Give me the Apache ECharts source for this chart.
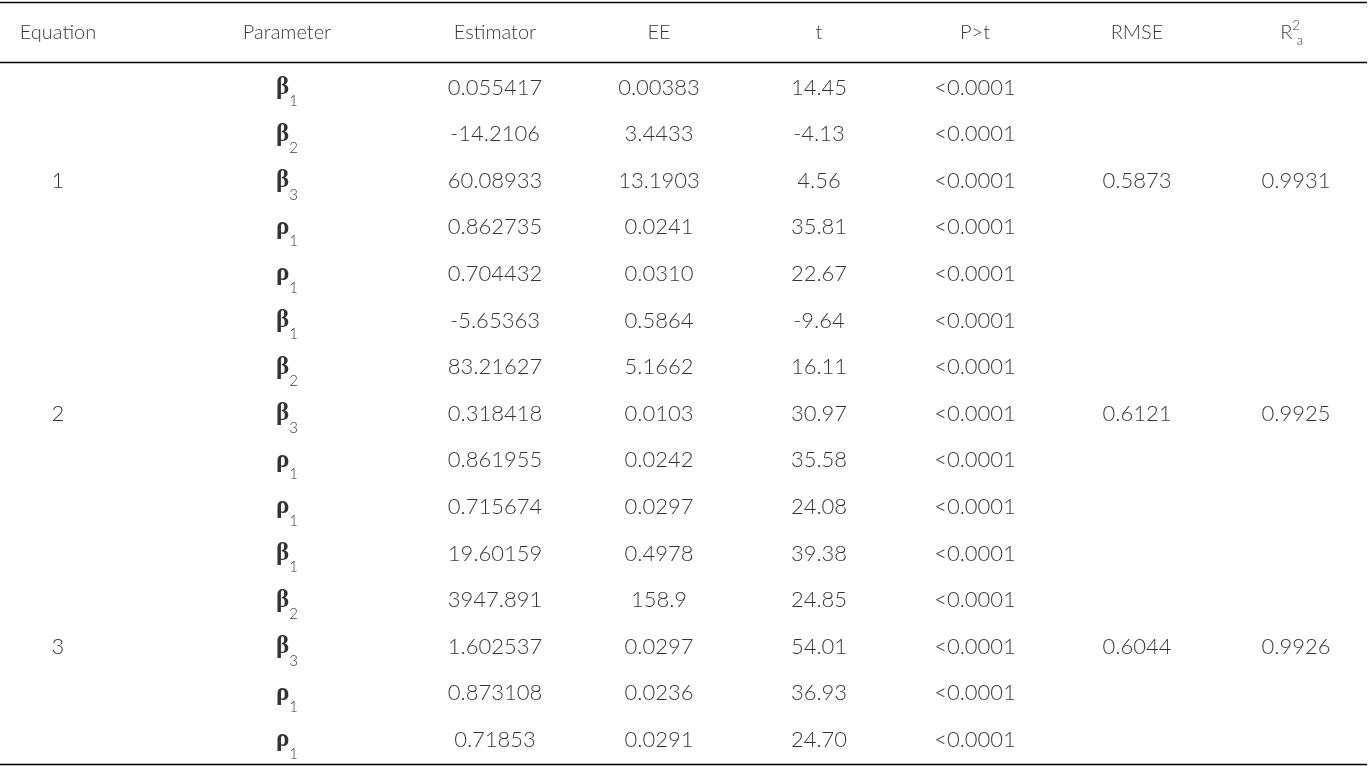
<!DOCTYPE html>
<html><head><meta charset="utf-8">
<script src="https://cdn.jsdelivr.net/npm/echarts@6/dist/echarts.min.js"></script>
<style>html,body{margin:0;padding:0;background:#fff}#c{width:1370px;height:766px}</style>
</head><body><div id="c"></div>
<script>
// ---- data ----
const headers = ['Equation', 'Parameter', 'Estimator', 'EE', 't', 'P>t', 'RMSE', 'R2a'];
const equations = ['1', '2', '3'];
const paramSymbols = ['β','β','β','ρ','ρ','β','β','β','ρ','ρ','β','β','β','ρ','ρ'];
const paramSubs = ['1','2','3','1','1','1','2','3','1','1','1','2','3','1','1'];
const estimators = ['0.055417','-14.2106','60.08933','0.862735','0.704432','-5.65363','83.21627','0.318418','0.861955','0.715674','19.60159','3947.891','1.602537','0.873108','0.71853'];
const ee = ['0.00383','3.4433','13.1903','0.0241','0.0310','0.5864','5.1662','0.0103','0.0242','0.0297','0.4978','158.9','0.0297','0.0236','0.0291'];
const tValues = ['14.45','-4.13','4.56','35.81','22.67','-9.64','16.11','30.97','35.58','24.08','39.38','24.85','54.01','36.93','24.70'];
const pValues = ['<0.0001','<0.0001','<0.0001','<0.0001','<0.0001','<0.0001','<0.0001','<0.0001','<0.0001','<0.0001','<0.0001','<0.0001','<0.0001','<0.0001','<0.0001'];
const rmse = ['0.5873', '0.6121', '0.6044'];
const r2a = ['0.9931', '0.9925', '0.9926'];

// ---- layout ----
const colCenters = [58, 287, 495, 659, 819, 975, 1137, 1296];
const rowsPerEq = 5;
const headerRow = -1.18;
const rules = [-1.83, -0.545, 14.52];
const FONT = 'Lato';
const INK = '#000';
const WEIGHT = 300;

const headerData = headers.map((h, i) => [colCenters[i], headerRow, h]);
const eqData = equations.map((e, i) => [colCenters[0], i * rowsPerEq + 2, e]);
const paramData = paramSymbols.map((s, i) => [colCenters[1], i, '{g|' + s + '}{s|' + paramSubs[i] + '}']);
const bodyData = [];
[estimators, ee, tValues, pValues].forEach((col, c) => {
  col.forEach((v, r) => bodyData.push([colCenters[2 + c], r, v]));
});
const summaryData = [];
rmse.forEach((v, i) => summaryData.push([colCenters[6], i * rowsPerEq + 2, v]));
r2a.forEach((v, i) => summaryData.push([colCenters[7], i * rowsPerEq + 2, v]));

function textSeries(data, label, extra) {
  return Object.assign({
    type: 'scatter', data: data, symbolSize: 0, silent: true,
    label: Object.assign({
      show: true, position: 'inside', color: INK, fontFamily: FONT,
      fontWeight: WEIGHT, fontSize: 22, formatter: p => p.value[2]
    }, label)
  }, extra || {});
}

const chart = echarts.init(document.getElementById('c'), null, {renderer: 'canvas'});
chart.setOption({
  animation: false,
  grid: {left: 0, right: 3, top: 0, bottom: 0},
  xAxis: {type: 'value', min: 0, max: 1367, show: false},
  yAxis: {type: 'value', min: -1.88, max: 14.56, inverse: true, show: false},
  series: [
    textSeries(headerData.filter(d => d[2] !== 'R2a'), {fontSize: 20}, {
      markLine: {
        silent: true, symbol: 'none', label: {show: false},
        lineStyle: {color: '#000', width: 1.4, type: 'solid'},
        data: rules.map(v => ({yAxis: v}))
      }
    }),
    textSeries(headerData.filter(d => d[2] === 'R2a'), {
      formatter: () => '{r|R}{sup|2}', offset: [-6, 0],
      rich: {
        r: {fontSize: 20, fontFamily: FONT, fontWeight: WEIGHT, color: INK, lineHeight: 26},
        sup: {fontSize: 13, fontFamily: FONT, fontWeight: WEIGHT, color: INK, verticalAlign: 'top', lineHeight: 13}
      }
    }),
    textSeries(headerData.filter(d => d[2] === 'R2a'), {
      formatter: () => 'a', fontSize: 13, offset: [4, 8]
    }),
    textSeries(eqData, {}),
    textSeries(paramData, {
      formatter: p => p.value[2],
      rich: {
        g: {fontSize: 25, fontFamily: 'Liberation Serif', fontWeight: 'bold', color: INK, lineHeight: 30},
        s: {fontSize: 15, fontFamily: FONT, fontWeight: WEIGHT, color: INK, verticalAlign: 'middle', lineHeight: 15, padding: [28, 0, 0, 0]}
      }
    }),
    textSeries(bodyData, {}),
    textSeries(summaryData, {})
  ]
});
</script></body></html>
